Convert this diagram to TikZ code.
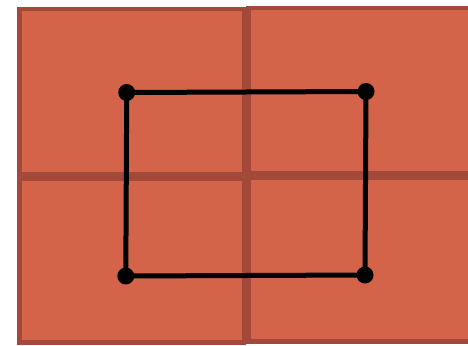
\documentclass[tikz,border=0pt]{standalone}
\usepackage{xcolor}
\usepackage{tikz}
\definecolor{TileFill}{HTML}{D3644A}
\definecolor{TileEdge}{HTML}{A2493A}
\tikzset{
  tile/.style={fill=TileFill,draw=TileEdge,line width=4.5pt},
  corner/.style={circle,fill=black,inner sep=0pt,minimum size=17pt},
  edge/.style={black,line width=5pt}
}

\begin{document}
\begin{tikzpicture}[x=1pt,y=-1pt]
\path[use as bounding box] (0,0) rectangle (468,345);
\clip (0,0) rectangle (468,345);
\fill[white] (0,0) rectangle (468,345);
% tiles
\draw[tile] (19.25,9.25) rectangle (243.75,174.25);
\draw[tile] (248.25,8.25) rectangle (480,172.75);
\draw[tile] (19.25,178.75) rectangle (243.75,342.5);
\draw[tile] (248.25,177.25) rectangle (480,341.5);
% corners
\node[corner] (tl) at (126.7,92.5) {};
\node[corner] (tr) at (366,91.5) {};
\node[corner] (br) at (365,275) {};
\node[corner] (bl) at (125.8,276) {};
\draw[edge] (tl.center) -- (tr.center) -- (br.center) -- (bl.center) -- (tl.center);
\end{tikzpicture}
\end{document}
